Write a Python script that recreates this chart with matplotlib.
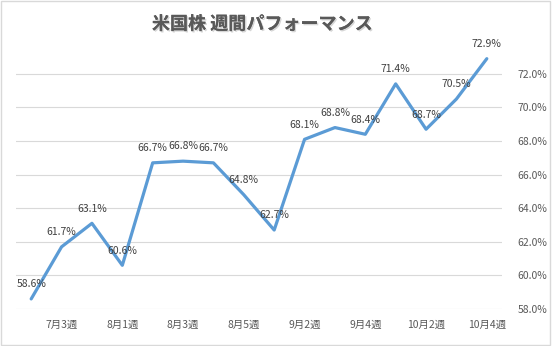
import matplotlib
matplotlib.use("Agg")
import matplotlib.pyplot as plt
import matplotlib.patheffects as pe
from matplotlib.ticker import FuncFormatter

plt.rcParams['font.family'] = ['Noto Sans CJK JP', 'DejaVu Sans']

weeks = ["7月2週", "7月3週", "7月4週", "8月1週", "8月2週", "8月3週", "8月4週", "8月5週",
         "9月1週", "9月2週", "9月3週", "9月4週", "10月1週", "10月2週", "10月3週", "10月4週"]
values = [58.6, 61.7, 63.1, 60.6, 66.7, 66.8, 66.7, 64.8,
          62.7, 68.1, 68.8, 68.4, 71.4, 68.7, 70.5, 72.9]
yticks = [58, 60, 62, 64, 66, 68, 70, 72]

fig = plt.figure(figsize=(5.52, 3.46), dpi=100)
fig.patches.append(plt.Rectangle((0.002, 0.003), 0.995, 0.994, transform=fig.transFigure,
                                 fill=False, edgecolor="#d9d9d9", linewidth=1))
ax = fig.add_axes([16 / 552, 1 - 309 / 346, (502 - 16) / 552, (309 - 40) / 346])

x = list(range(len(values)))
ax.plot(x, values, color="#5B9BD5", linewidth=2.3, solid_capstyle="round", zorder=3)
for xi, v in zip(x, values):
    ax.annotate(f"{v:.1f}%", (xi, v), xytext=(0, 7), textcoords="offset points",
                ha="center", va="bottom", fontsize=7.5, color="#404040", zorder=4)

ax.set_xlim(-0.5, len(values) - 0.5)
ax.set_ylim(58, 58 + (309 - 40) / 16.8)
ax.set_yticks(yticks)
ax.yaxis.set_major_formatter(FuncFormatter(lambda v, p: f"{v:.1f}%"))
ax.yaxis.tick_right()
ax.set_xticks(x[1::2])
ax.set_xticklabels(weeks[1::2])
ax.tick_params(axis="both", length=0, labelsize=7.5, colors="#595959")
ax.tick_params(axis="y", pad=11)
ax.tick_params(axis="x", pad=8)
ax.grid(axis="y", color="#d9d9d9", linewidth=0.8)
ax.set_axisbelow(True)
for s in ax.spines.values():
    s.set_visible(False)

fig.text(262 / 552, 1 - 24 / 346, "米国株 週間パフォーマンス", ha="center", va="center",
         fontsize=13, fontweight="bold", color="#595959",
         path_effects=[pe.withSimplePatchShadow(offset=(1, -1), shadow_rgbFace="#bbbbbb", alpha=0.6), pe.Normal()])

fig.savefig("out.png", dpi=100)
